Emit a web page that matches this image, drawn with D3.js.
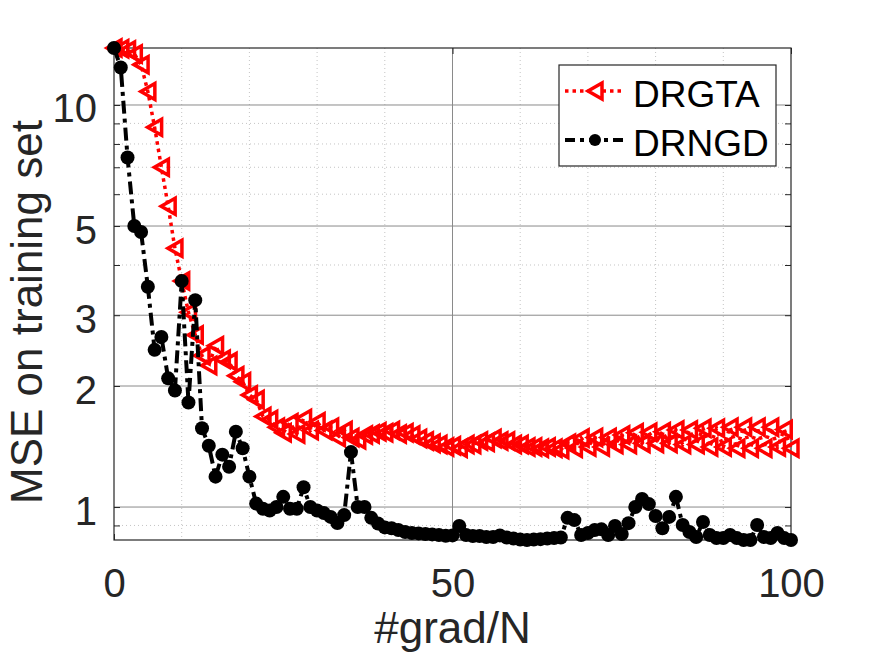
<!DOCTYPE html>
<html>
<head>
<meta charset="utf-8">
<script src="https://cdn.jsdelivr.net/npm/d3@7/dist/d3.min.js"></script>
<style>
html,body{margin:0;padding:0;background:#fff;}
svg{display:block;font-family:"Liberation Sans",Arial,Helvetica,sans-serif;}
</style>
</head>
<body>
<svg id="chart" width="875" height="656"></svg>
<script>
// ---- data ----
const xValues = d3.range(0, 101); // #grad/N, 0..100
const drgta = [13.86,13.8,13.7,13.4,12.6,10.8,8.8,7.0,5.6,4.4,
  3.65,3.05,2.68,2.38,2.25,2.52,2.33,2.3,2.12,2.05,
  1.9,1.85,1.68,1.65,1.58,1.53,1.62,1.52,1.66,1.55,
  1.63,1.55,1.58,1.49,1.55,1.49,1.47,1.51,1.52,1.54,
  1.53,1.55,1.52,1.53,1.51,1.48,1.46,1.44,1.43,1.41,
  1.42,1.40,1.43,1.43,1.46,1.45,1.48,1.46,1.46,1.43,
  1.43,1.41,1.41,1.40,1.41,1.40,1.39,1.44,1.40,1.485,
  1.41,1.49,1.41,1.49,1.43,1.51,1.43,1.53,1.44,1.535,
  1.44,1.54,1.44,1.555,1.43,1.555,1.43,1.57,1.41,1.57,
  1.41,1.58,1.40,1.58,1.40,1.58,1.40,1.58,1.41,1.56,1.40];
const drngd = [13.86,12.4,7.4,5.0,4.83,3.53,2.46,2.65,2.09,1.95,
  3.65,1.82,3.27,1.57,1.42,1.19,1.35,1.26,1.54,1.40,
  1.19,1.02,0.99,0.98,1.0,1.06,0.99,0.99,1.12,1.0,
  0.98,0.966,0.945,0.913,0.955,1.37,1.0,1.0,0.94,0.91,
  0.89,0.886,0.877,0.867,0.862,0.86,0.857,0.855,0.852,0.848,
  0.85,0.897,0.852,0.847,0.847,0.842,0.842,0.85,0.84,0.835,
  0.83,0.828,0.83,0.832,0.835,0.837,0.84,0.94,0.928,0.852,
  0.862,0.877,0.88,0.852,0.897,0.857,0.912,1.0,1.047,1.017,
  0.95,0.886,0.945,1.06,0.902,0.867,0.842,0.918,0.852,0.837,
  0.837,0.852,0.837,0.828,0.828,0.902,0.842,0.837,0.862,0.837,0.828];
const seriesNames = ["DRGTA", "DRNGD"];
const xTicks = [0, 50, 100];
const xMinorGrid = [10, 20, 30, 40, 60, 70, 80, 90];
const yTicks = [1, 2, 3, 5, 10];
const yMinor = [0.9, 4, 6, 7, 8, 9];
const yDomain = [0.828, 13.86];

// ---- layout ----
const L = 114, R = 791, T = 48, B = 540;
const svg = d3.select("#chart");
const x = d3.scaleLinear().domain([0, 100]).range([L, R]);
const y = d3.scaleLog().domain(yDomain).range([B, T]);
const axisCol = "#262626";

// grid
const g = svg.append("g");
g.selectAll(".xmin").data(xMinorGrid).join("line")
  .attr("x1", d => x(d)).attr("x2", d => x(d)).attr("y1", T).attr("y2", B)
  .attr("stroke", "#c4c4c4").attr("stroke-width", 1).attr("stroke-dasharray", "1,3");
g.selectAll(".ymin").data(yMinor).join("line")
  .attr("x1", L).attr("x2", R).attr("y1", d => y(d)).attr("y2", d => y(d))
  .attr("stroke", "#c4c4c4").attr("stroke-width", 1).attr("stroke-dasharray", "1,3");
g.selectAll(".xmaj").data(xTicks.filter(d => d > 0 && d < 100)).join("line")
  .attr("x1", d => x(d)).attr("x2", d => x(d)).attr("y1", T).attr("y2", B)
  .attr("stroke", "#8a8a8a").attr("stroke-width", 1);
g.selectAll(".ymaj").data(yTicks).join("line")
  .attr("x1", L).attr("x2", R).attr("y1", d => y(d)).attr("y2", d => y(d))
  .attr("stroke", "#8a8a8a").attr("stroke-width", 1);

// axes (d3 axes, inward ticks)
const fs = 40;
const axB = d3.axisBottom(x).tickValues(xTicks).tickSizeInner(-6).tickSizeOuter(0).tickPadding(57).tickFormat(d3.format("d"));
const axT = d3.axisTop(x).tickValues(xTicks).tickSizeInner(-6).tickSizeOuter(0).tickFormat("");
const axLeft = d3.axisLeft(y).tickValues(yTicks.concat(yMinor)).tickSizeInner(-6).tickSizeOuter(0).tickPadding(17)
  .tickFormat(d => yTicks.includes(d) ? d3.format("d")(d) : "");
const axRight = d3.axisRight(y).tickValues(yTicks.concat(yMinor)).tickSizeInner(-6).tickSizeOuter(0).tickFormat("");

function style(sel) {
  sel.select(".domain").remove();
  sel.selectAll("line").attr("stroke", axisCol).attr("stroke-width", 1);
  sel.selectAll("text").attr("fill", axisCol).attr("font-size", fs)
     .attr("font-family", "'Liberation Sans',Arial,sans-serif");
}
svg.append("g").attr("transform", `translate(0,${B})`).call(axB).call(style)
  .selectAll("text").attr("dy", "0");
svg.append("g").attr("transform", `translate(0,${T})`).call(axT).call(style);
svg.append("g").attr("transform", `translate(${L},0)`).call(axLeft).call(style)
  .selectAll("text").attr("dy", "17");
svg.append("g").attr("transform", `translate(${R},0)`).call(axRight).call(style);
// box
svg.append("rect").attr("x", L).attr("y", T).attr("width", R - L).attr("height", B - T)
  .attr("fill", "none").attr("stroke", axisCol).attr("stroke-width", 1.2);

// ---- series ----
const line = d3.line().x((d, i) => x(xValues[i])).y(d => y(d));
const triPath = "M-7,0 L7,-8 L7,8 Z";

const red = svg.append("g");
red.append("path").datum(drgta).attr("d", line).attr("fill", "none")
  .attr("stroke", "#ff0000").attr("stroke-width", 3.5).attr("stroke-dasharray", "3.5,4");
red.selectAll("path.m").data(drgta).join("path").attr("class", "m")
  .attr("d", triPath)
  .attr("transform", (d, i) => `translate(${x(xValues[i])},${y(d)})`)
  .attr("fill", "none").attr("stroke", "#ff0000").attr("stroke-width", 3.5)
  .attr("stroke-linejoin", "miter");

const blk = svg.append("g");
blk.append("path").datum(drngd).attr("d", line).attr("fill", "none")
  .attr("stroke", "#000").attr("stroke-width", 4).attr("stroke-dasharray", "13,5,4,5");
blk.selectAll("circle").data(drngd).join("circle")
  .attr("cx", (d, i) => x(xValues[i])).attr("cy", d => y(d)).attr("r", 7)
  .attr("fill", "#000");

// axis labels
svg.append("text").attr("x", (L + R) / 2).attr("y", 643).attr("text-anchor", "middle")
  .attr("font-size", 44).attr("fill", axisCol).text("#grad/N");
svg.append("text").attr("transform", `translate(42,312) rotate(-90)`)
  .attr("text-anchor", "middle").attr("font-size", 44).attr("fill", axisCol)
  .text("MSE on training set");

// ---- legend ----
const lg = svg.append("g");
lg.append("rect").attr("x", 559).attr("y", 65).attr("width", 217).attr("height", 101)
  .attr("fill", "#fff").attr("stroke", axisCol).attr("stroke-width", 1.2);
const rows = [91, 140];
lg.append("line").attr("x1", 565).attr("x2", 624).attr("y1", rows[0]).attr("y2", rows[0])
  .attr("stroke", "#ff0000").attr("stroke-width", 3.5).attr("stroke-dasharray", "3.5,4");
lg.append("path").attr("d", triPath).attr("transform", `translate(595,${rows[0]})`)
  .attr("fill", "#fff").attr("stroke", "#ff0000").attr("stroke-width", 3.5);
lg.append("line").attr("x1", 565).attr("x2", 624).attr("y1", rows[1]).attr("y2", rows[1])
  .attr("stroke", "#000").attr("stroke-width", 4).attr("stroke-dasharray", "10,5,4,5");
lg.append("circle").attr("cx", 595).attr("cy", rows[1]).attr("r", 6).attr("fill", "#000");
lg.selectAll("text.l").data(seriesNames).join("text").attr("class", "l")
  .attr("x", 633).attr("y", (d, i) => rows[i] + 16).attr("font-size", 37).attr("fill", "#000")
  .text(d => d);
</script>
</body>
</html>
